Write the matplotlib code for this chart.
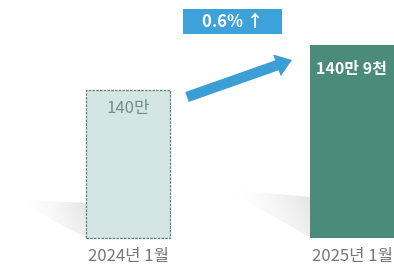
import numpy as np
import matplotlib
matplotlib.use("Agg")
import matplotlib.pyplot as plt
import matplotlib.transforms as mtransforms
from matplotlib.patches import Rectangle, Polygon, FancyArrow

plt.rcParams['font.family'] = ['Noto Sans CJK KR', 'DejaVu Sans']

# ================= 数据 =================
categories = ['2024년 1월', '2025년 1월']
values = [140.0, 140.9]          # 만 명
value_labels = ['140만', '140만 9천']
change_label = '0.6% ↑'

# 视觉上截断的基线（原图柱子不从 0 开始）
BASE = 137.04

W, H = 394, 269
fig = plt.figure(figsize=(W / 100, H / 100), dpi=100)
ax = fig.add_axes([0, 0, 1, 1])
ax.set_axis_off()

# 像素 -> 数据坐标：x 位置 0/1 对应 128px/352px，y 50px 每单位
XS = 224.0
YS = 50.0
ax.set_xlim(-128 / XS, (W - 128) / XS)
ax.set_ylim(BASE - (H - 238) / YS, BASE + 238 / YS)

# 像素坐标变换（左上为原点），用于装饰元素
pxT = mtransforms.Affine2D().scale(1 / W, -1 / H).translate(0, 1) + ax.transAxes

x = np.arange(len(categories))
width = 84 / XS

# ---- 阴影（渐变三角）----
def shadow(pts):
    poly = Polygon(pts, closed=True, facecolor='none', edgecolor='none',
                   transform=pxT)
    ax.add_patch(poly)
    xs = [p[0] for p in pts]
    ys = [p[1] for p in pts]
    gx = np.linspace(0, 1, 200)
    gy = np.linspace(0, 1, 100)
    GX, GY = np.meshgrid(gx, gy)
    alpha = 0.42 * GX ** 1.6 * (0.55 + 0.45 * (1 - GY))
    img = np.zeros((100, 200, 4))
    img[..., :3] = 0.74
    img[..., 3] = alpha
    im = ax.imshow(img, extent=[min(xs), max(xs), max(ys), min(ys)],
                   origin='upper', aspect='auto', zorder=1, transform=pxT)
    im.set_clip_path(poly)

shadow([(23, 200), (86, 203), (86, 238), (23, 204)])
shadow([(233, 190), (310, 197), (310, 237), (233, 194)])

# ---- 柱子 ----
heights = [v - BASE for v in values]
ax.bar(x[0], heights[0], width, bottom=BASE, color='#d3e6e1',
       edgecolor='#5f7f78', linestyle=(0, (2, 1)), linewidth=0.9, zorder=2)
ax.bar(x[1], heights[1], width, bottom=BASE, color='#4b8b79',
       edgecolor='none', zorder=2)

# 数值标签
ax.text(x[0], values[0] - 18 / YS, value_labels[0], ha='center', va='center',
        fontsize=12, color='#6f8f88', zorder=3)
ax.text(x[1] - width / 2 + 6 / XS, values[1] - 24 / YS, value_labels[1],
        ha='left', va='center', fontsize=11.5, fontweight='bold',
        color='white', zorder=3)

# 类别标签
for xi, lab in zip(x, categories):
    ax.text(xi, BASE - 19 / YS, lab, ha='center', va='center', fontsize=12,
            color='#777777', zorder=3)

# ---- 箭头 ----
ax.add_patch(FancyArrow(187, 97, 292 - 187, 60 - 97, width=10.5,
                        head_width=23, head_length=16,
                        length_includes_head=True, color='#3b9fd6',
                        linewidth=0, zorder=3, transform=pxT))

# ---- 增长率框 ----
ax.add_patch(Rectangle((183, 9), 99, 25, facecolor='#3ea2da',
                       edgecolor='none', zorder=3, transform=pxT))
ax.text(232.5, 21.5, change_label, ha='center', va='center', fontsize=12,
        fontweight='bold', color='white', zorder=4, transform=pxT)

fig.savefig('out.png', dpi=100)
